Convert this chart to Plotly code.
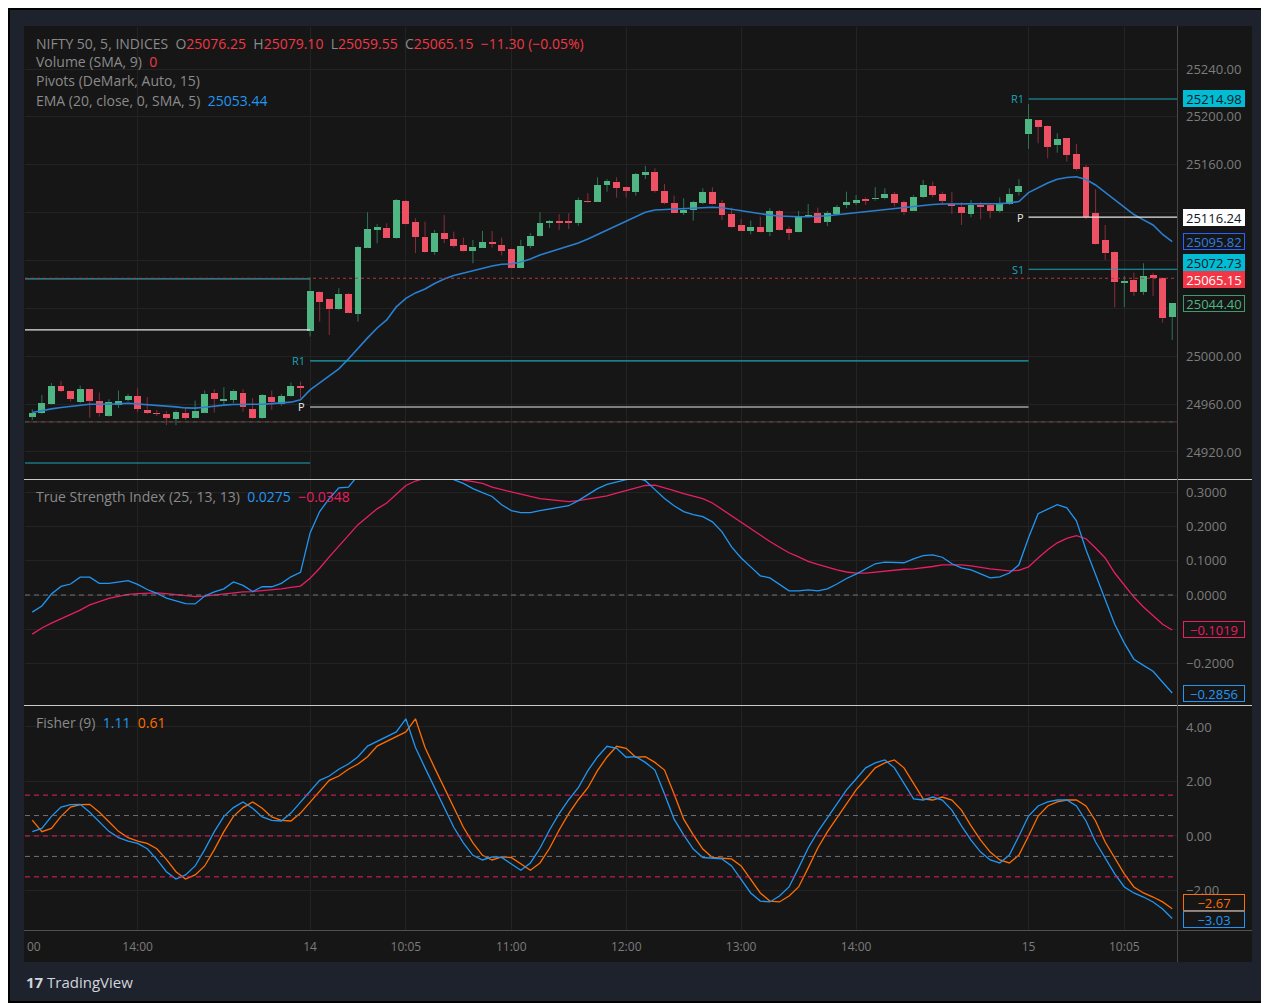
import plotly.graph_objects as go

# page body adds an 8px margin: the figure is laid out in screen pixels minus this offset
OFF = 8
W, H = 1269 - OFF, 1003 - OFF

# ---------------- data ----------------
opens = [
    24949.5, 24952.4, 24959.9, 24975.4, 24971.3, 24961.6, 24972.4, 24962.9, 24950.4, 24959.6,
    24963.5, 24966.8, 24955.4, 24952.9, 24952.1, 24947.6, 24952.9, 24948.7, 24952.9, 24969.6,
    24962.7, 24963.5, 24969.6, 24955.7, 24948.2, 24965.8, 24959.9, 24966.8, 24975.4,
    25021.4, 25054.0, 25047.6, 25039.3, 25052.1, 25035.4, 25090.8, 25105.5, 25107.5, 25098.6,
    25129.8, 25112.0, 25100.0, 25086.9, 25102.8, 25098.0, 25093.0, 25088.0, 25090.8, 25095.3,
    25093.0, 25089.7, 25074.0, 25092.4, 25100.8, 25111.1, 25113.1, 25112.8, 25111.1, 25129.8,
    25129.2, 25143.1, 25145.9, 25141.2, 25137.5, 25151.4, 25154.2, 25138.4, 25127.8, 25119.7,
    25122.2, 25128.3, 25137.2, 25127.8, 25118.6, 25109.4, 25104.9, 25108.3, 25103.6, 25121.4,
    25106.3, 25103.6, 25116.4, 25119.5, 25112.4, 25118.9, 25126.4, 25128.3, 25131.7, 25131.1,
    25132.0, 25135.6, 25128.6, 25121.7, 25132.8, 25142.3, 25135.6, 25127.2, 25125.0, 25118.9,
    25126.4, 25126.1, 25121.7, 25127.2, 25137.5,
    25185.4, 25197.1, 25192.4, 25176.3, 25182.1, 25169.0, 25157.9, 25119.5, 25097.2, 25087.4,
    25061.5, 25063.7, 25054.0, 25067.9, 25065.6, 25032.6,
]
highs = [
    24955.7, 24967.7, 24977.5, 24979.4, 24971.5, 24975.4, 24972.8, 24969.6, 24964.1, 24971.3,
    24968.5, 24973.3, 24965.8, 24955.1, 24954.3, 24954.6, 24956.6, 24962.9, 24971.3, 24972.4,
    24974.1, 24972.4, 24972.4, 24964.9, 24968.5, 24971.3, 24968.5, 24977.9, 24978.8,
    25066.0, 25054.5, 25048.0, 25056.8, 25053.0, 25092.4, 25120.3, 25110.3, 25111.1, 25131.4,
    25130.6, 25115.3, 25112.5, 25105.5, 25118.1, 25104.1, 25099.1, 25097.2, 25104.7, 25104.7,
    25099.1, 25090.0, 25097.2, 25102.8, 25120.3, 25113.9, 25118.7, 25119.5, 25132.5, 25136.2,
    25149.5, 25148.1, 25149.5, 25141.8, 25153.1, 25159.2, 25157.0, 25144.0, 25134.2, 25132.0,
    25129.8, 25140.3, 25141.2, 25130.6, 25124.1, 25114.7, 25113.3, 25116.6, 25123.6, 25122.2,
    25108.3, 25121.4, 25127.2, 25124.1, 25121.4, 25126.4, 25137.5, 25134.7, 25132.8, 25141.2,
    25140.3, 25137.2, 25130.0, 25134.7, 25147.3, 25145.9, 25137.5, 25137.2, 25128.6, 25130.6,
    25128.6, 25127.8, 25132.8, 25140.3, 25147.9,
    25210.8, 25197.5, 25193.0, 25186.3, 25182.5, 25177.3, 25159.8, 25139.5, 25109.7, 25087.8,
    25067.1, 25069.8, 25077.7, 25069.8, 25066.0, 25044.4,
]
lows = [
    24946.8, 24951.8, 24959.6, 24969.9, 24962.1, 24960.7, 24948.7, 24949.5, 24949.5, 24956.6,
    24962.1, 24953.2, 24951.6, 24950.1, 24942.4, 24942.4, 24946.8, 24948.2, 24952.4, 24952.9,
    24959.9, 24960.7, 24953.7, 24947.6, 24947.6, 24955.1, 24958.5, 24966.3, 24964.9,
    25016.4, 25028.9, 25017.8, 25038.5, 25036.0, 25028.9, 25090.3, 25094.4, 25098.6, 25098.2,
    25110.2, 25086.1, 25086.5, 25084.7, 25094.4, 25090.8, 25087.4, 25077.7, 25090.5, 25090.8,
    25084.2, 25073.5, 25073.5, 25090.2, 25099.9, 25107.0, 25105.5, 25106.3, 25109.1, 25128.3,
    25128.8, 25137.5, 25132.5, 25132.5, 25134.2, 25148.1, 25136.7, 25127.0, 25119.5, 25118.0,
    25113.3, 25127.0, 25126.8, 25113.9, 25107.5, 25104.6, 25101.9, 25103.3, 25100.5, 25105.2,
    25097.2, 25103.3, 25116.0, 25111.1, 25108.8, 25118.0, 25123.6, 25126.4, 25126.4, 25130.0,
    25131.1, 25125.0, 25118.0, 25121.4, 25132.0, 25132.8, 25126.4, 25118.9, 25109.7, 25116.1,
    25114.4, 25115.3, 25120.0, 25126.4, 25134.2,
    25173.2, 25177.9, 25165.4, 25170.1, 25162.6, 25155.0, 25114.4, 25093.2, 25080.4, 25040.9,
    25040.9, 25050.4, 25051.2, 25050.4, 25028.1, 25013.6,
]
closes = [
    24952.9, 24960.7, 24975.4, 24971.0, 24964.6, 24972.4, 24962.9, 24952.4, 24961.6, 24962.9,
    24966.8, 24956.0, 24952.4, 24951.6, 24948.7, 24953.7, 24948.5, 24954.6, 24968.5, 24964.6,
    24964.1, 24971.3, 24957.9, 24948.2, 24967.7, 24961.6, 24966.8, 24975.2, 24973.8,
    25054.8, 25045.6, 25039.3, 25052.1, 25036.5, 25091.6, 25106.4, 25108.3, 25099.1, 25130.6,
    25110.6, 25099.5, 25086.9, 25103.3, 25098.0, 25092.4, 25088.0, 25091.6, 25095.3, 25093.6,
    25088.0, 25074.0, 25092.4, 25100.8, 25111.1, 25113.1, 25111.1, 25111.4, 25130.6, 25128.9,
    25143.1, 25146.7, 25140.4, 25138.4, 25152.3, 25154.2, 25138.4, 25128.3, 25119.7, 25122.2,
    25128.9, 25137.2, 25127.2, 25118.0, 25107.8, 25104.9, 25108.3, 25103.6, 25121.4, 25105.5,
    25102.8, 25116.6, 25118.0, 25111.7, 25119.5, 25124.5, 25128.9, 25130.6, 25130.0, 25132.5,
    25135.6, 25127.8, 25120.3, 25133.4, 25143.1, 25134.7, 25130.0, 25125.6, 25120.0, 25126.4,
    25124.5, 25121.7, 25127.8, 25135.6, 25142.3,
    25198.0, 25191.8, 25175.1, 25181.3, 25168.2, 25156.2, 25116.6, 25093.6, 25086.0, 25061.8,
    25062.9, 25054.0, 25067.1, 25065.6, 25031.7, 25044.4,
]
ema20 = [
    24952.9, 24954.6, 24956.0, 24957.1, 24957.9, 24959.3, 24959.9, 24959.9, 24959.9, 24960.2,
    24960.7, 24960.2, 24959.6, 24959.1, 24958.5, 24957.7, 24956.8, 24956.6, 24957.4, 24958.5,
    24959.1, 24959.6, 24959.6, 24959.6, 24959.9, 24960.4, 24960.7, 24961.6, 24963.5,
    24971.9, 24977.7, 24983.5, 24989.4, 24997.7, 25006.9, 25015.3, 25023.6, 25030.3, 25041.2,
    25048.3, 25052.9, 25056.2, 25060.8, 25064.6, 25067.5, 25069.6, 25071.3, 25073.3, 25075.4,
    25076.9, 25077.1, 25078.8, 25081.3, 25084.6, 25087.1, 25089.2, 25091.6, 25094.6, 25098.0,
    25101.7, 25105.5, 25108.8, 25112.8, 25116.8, 25120.3, 25122.2, 25122.6, 25122.8, 25123.0,
    25123.5, 25124.3, 25124.5, 25124.0, 25122.8, 25121.4, 25119.9, 25118.7, 25117.9, 25117.2,
    25116.6, 25116.6, 25116.6, 25116.9, 25117.4, 25118.2, 25119.1, 25119.9, 25120.7, 25121.5,
    25122.5, 25123.3, 25124.0, 25125.0, 25126.1, 25126.8, 25127.2, 25127.2, 25127.2, 25127.0,
    25127.0, 25127.2, 25127.5, 25128.0, 25129.3,
    25136.7, 25141.0, 25144.8, 25147.9, 25149.4, 25150.0, 25147.7, 25143.1, 25137.0, 25130.6,
    25124.3, 25118.4, 25113.9, 25109.7, 25101.7, 25095.8,
]
tsi = [
    -0.050, -0.032, 0.003, 0.025, 0.032, 0.052, 0.052, 0.034, 0.034, 0.037,
    0.042, 0.031, 0.016, 0.005, -0.009, -0.017, -0.025, -0.026, -0.003, 0.009,
    0.018, 0.038, 0.028, 0.010, 0.024, 0.024, 0.034, 0.053, 0.066,
    0.181, 0.243, 0.281, 0.312, 0.314, 0.348, 0.370, 0.390, 0.400, 0.410,
    0.400, 0.390, 0.380, 0.370, 0.355, 0.336, 0.325, 0.310, 0.298, 0.287,
    0.263, 0.246, 0.240, 0.240, 0.246, 0.251, 0.254, 0.260, 0.275, 0.292,
    0.310, 0.322, 0.330, 0.336, 0.342, 0.333, 0.307, 0.281, 0.260, 0.243,
    0.234, 0.228, 0.213, 0.184, 0.140, 0.108, 0.082, 0.056, 0.050, 0.032,
    0.012, 0.012, 0.015, 0.012, 0.018, 0.032, 0.048, 0.061, 0.076, 0.091,
    0.096, 0.094, 0.094, 0.105, 0.115, 0.117, 0.110, 0.091, 0.079, 0.073,
    0.061, 0.050, 0.053, 0.064, 0.088,
    0.167, 0.237, 0.251, 0.263, 0.254, 0.216, 0.132, 0.058, -0.015, -0.085,
    -0.140, -0.187, -0.205, -0.222, -0.254, -0.2856,
]
tsi_signal = [
    -0.114, -0.096, -0.082, -0.070, -0.058, -0.044, -0.029, -0.019, -0.010, -0.004,
    0.002, 0.004, 0.006, 0.006, 0.004, 0.001, -0.003, -0.005, -0.003, 0.000,
    0.004, 0.008, 0.009, 0.010, 0.012, 0.015, 0.018, 0.022, 0.026,
    0.049, 0.078, 0.111, 0.143, 0.175, 0.205, 0.228, 0.251, 0.268, 0.294,
    0.319, 0.332, 0.340, 0.345, 0.347, 0.345, 0.335, 0.330, 0.325, 0.314,
    0.307, 0.300, 0.292, 0.287, 0.281, 0.278, 0.275, 0.272, 0.275, 0.279,
    0.284, 0.289, 0.297, 0.304, 0.313, 0.319, 0.320, 0.313, 0.304, 0.295,
    0.288, 0.281, 0.268, 0.249, 0.231, 0.211, 0.192, 0.175, 0.156, 0.139,
    0.123, 0.111, 0.098, 0.089, 0.080, 0.073, 0.067, 0.064, 0.064, 0.067,
    0.070, 0.073, 0.075, 0.076, 0.079, 0.083, 0.088, 0.089, 0.088, 0.085,
    0.080, 0.076, 0.073, 0.070, 0.072,
    0.082, 0.108, 0.132, 0.152, 0.165, 0.173, 0.164, 0.137, 0.108, 0.064,
    0.029, -0.006, -0.035, -0.061, -0.085, -0.1019,
]
fisher = [
    0.16, 0.28, 0.72, 1.06, 1.15, 1.16, 0.87, 0.52, 0.17, -0.06,
    -0.19, -0.27, -0.47, -0.86, -1.31, -1.58, -1.43, -1.10, -0.50, 0.16,
    0.72, 1.04, 1.25, 1.02, 0.70, 0.57, 0.55, 0.84, 1.24,
    1.62, 2.04, 2.20, 2.45, 2.64, 2.91, 3.30, 3.48, 3.65, 3.82,
    4.30, 3.25, 2.50, 1.77, 1.05, 0.32, -0.25, -0.71, -0.88, -0.77,
    -0.79, -1.02, -1.26, -0.99, -0.45, 0.22, 0.82, 1.33, 1.77, 2.40,
    2.90, 3.29, 3.22, 2.89, 2.91, 2.70, 2.42, 1.54, 0.62, 0.04,
    -0.48, -0.79, -0.81, -0.84, -1.10, -1.61, -2.09, -2.39, -2.42, -2.20,
    -1.87, -1.17, -0.44, 0.15, 0.66, 1.21, 1.69, 2.09, 2.50, 2.68,
    2.79, 2.50, 1.91, 1.36, 1.32, 1.43, 1.32, 0.95, 0.37, -0.15,
    -0.59, -0.88, -0.99, -0.70, 0.00,
    0.73, 1.10, 1.25, 1.32, 1.32, 1.10, 0.55, -0.22, -0.81, -1.39,
    -1.87, -2.09, -2.24, -2.42, -2.68, -3.03,
]
fisher_trigger = [
    0.58, 0.16, 0.28, 0.72, 1.06, 1.15, 1.16, 0.87, 0.52, 0.17,
    -0.06, -0.19, -0.27, -0.47, -0.86, -1.31, -1.58, -1.43, -1.10, -0.50,
    0.16, 0.72, 1.04, 1.25, 1.02, 0.70, 0.57, 0.55, 0.84,
    1.24, 1.62, 2.04, 2.20, 2.45, 2.64, 2.91, 3.30, 3.48, 3.65,
    3.82, 4.30, 3.25, 2.50, 1.77, 1.05, 0.32, -0.25, -0.71, -0.88,
    -0.77, -0.79, -1.02, -1.26, -0.99, -0.45, 0.22, 0.82, 1.33, 1.77,
    2.40, 2.90, 3.29, 3.22, 2.89, 2.91, 2.70, 2.42, 1.54, 0.62,
    0.04, -0.48, -0.79, -0.81, -0.84, -1.10, -1.61, -2.09, -2.39, -2.42,
    -2.20, -1.87, -1.17, -0.44, 0.15, 0.66, 1.21, 1.69, 2.09, 2.50,
    2.68, 2.79, 2.50, 1.91, 1.36, 1.32, 1.43, 1.32, 0.95, 0.37,
    -0.15, -0.59, -0.88, -0.99, -0.70,
    0.00, 0.73, 1.10, 1.25, 1.32, 1.32, 1.10, 0.55, -0.22, -0.81,
    -1.39, -1.87, -2.09, -2.24, -2.42, -2.67,
]
# session boundaries (bar index) and DeMark pivot levels per session
session_start = [-40, 29, 104]
session_end = [29, 104, 140]
pivot_r1 = [25064.6, 24996.1, 25214.98]
pivot_p = [25022.0, 24957.6, 25116.24]
pivot_s1 = [24910.8, 24875.0, 25072.73]
pivot_labelled = [False, True, True]
last_price = 25065.15
marker_line = 24945.1

tick_index = [11, 29, 39, 50, 62, 74, 86, 104, 114]
tick_text = ["14:00", "14", "10:05", "11:00", "12:00", "13:00", "14:00", "15", "10:05"]

price_ticks = [24920, 24960, 25000, 25040, 25080, 25120, 25160, 25200, 25240]
price_ticktext = ["24920.00", "24960.00", "25000.00", "", "", "", "25160.00", "25200.00", "25240.00"]
tsi_ticks = [-0.2, -0.1, 0.0, 0.1, 0.2, 0.3]
tsi_ticktext = ["\u22120.2000", "", "0.0000", "0.1000", "0.2000", "0.3000"]
fisher_ticks = [-2, 0, 2, 4]
fisher_ticktext = ["\u22122.00", "0.00", "2.00", "4.00"]

n = len(closes)
assert all(len(a) == n for a in [opens, highs, lows, ema20, tsi, tsi_signal, fisher, fisher_trigger]), "len"
idx = list(range(n))

# ---------------- styles ----------------
FONT = "'Open Sans', sans-serif"
BG = "#161616"
FRAME = "#1e222d"
GRID = "#232323"
AXTXT = "#7c7c7c"
UP = "#4fb583"
DOWN = "#ef5164"
UP_WICK = "#2d7455"
DOWN_WICK = "#8a2d3c"
CYAN = "#00bcd4"
CYAN_LINE = "#1aa3b8"
EMA_C = "#2a7fd0"
BLUE = "#2196f3"
CRIMSON = "#e91e63"
ORANGE = "#ff6d00"
GRAYDASH = "#6f7278"

def PX(x):  # screen pixel -> paper x
    return (x - OFF) / W

def PY(y):  # screen pixel -> paper y
    return 1 - (y - OFF) / H

fig = go.Figure()

# wicks (split above/below body so bodies stay clean)
def wick_xy(sel):
    xs, ys = [], []
    for k in idx:
        if not sel(k):
            continue
        top = max(opens[k], closes[k])
        bot = min(opens[k], closes[k])
        xs += [k, k, None, k, k, None]
        ys += [highs[k], top, None, bot, lows[k], None]
    return xs, ys

is_up = lambda k: closes[k] >= opens[k]
is_dn = lambda k: closes[k] < opens[k]

for sel, col in [(is_up, UP_WICK), (is_dn, DOWN_WICK)]:
    xs, ys = wick_xy(sel)
    fig.add_trace(go.Scatter(x=xs, y=ys, mode="lines", line=dict(color=col, width=1),
                             hoverinfo="skip", showlegend=False, xaxis="x", yaxis="y"))

for sel, col in [(is_up, UP), (is_dn, DOWN)]:
    ks = [k for k in idx if sel(k)]
    fig.add_trace(go.Bar(
        x=ks,
        y=[max(abs(closes[k] - opens[k]), 0.9) for k in ks],
        base=[min(opens[k], closes[k]) for k in ks],
        width=0.72, marker=dict(color=col, line=dict(width=0)),
        hoverinfo="skip", showlegend=False, xaxis="x", yaxis="y"))

# EMA
fig.add_trace(go.Scatter(x=idx, y=ema20, mode="lines", line=dict(color=EMA_C, width=1.6),
                         hoverinfo="skip", showlegend=False, xaxis="x", yaxis="y"))

# pivots
for i in range(len(session_start)):
    xs = [session_start[i], session_end[i]]
    for lvl, col in [(pivot_r1[i], CYAN_LINE), (pivot_s1[i], CYAN_LINE), (pivot_p[i], "#e6e6e6")]:
        fig.add_trace(go.Scatter(x=xs, y=[lvl, lvl], mode="lines", line=dict(color=col, width=1.1),
                                 hoverinfo="skip", showlegend=False, xaxis="x", yaxis="y"))

# TSI pane
fig.add_trace(go.Scatter(x=idx, y=tsi_signal, mode="lines", line=dict(color=CRIMSON, width=1.3),
                         hoverinfo="skip", showlegend=False, xaxis="x2", yaxis="y2"))
fig.add_trace(go.Scatter(x=idx, y=tsi, mode="lines", line=dict(color=BLUE, width=1.3),
                         hoverinfo="skip", showlegend=False, xaxis="x2", yaxis="y2"))

# Fisher pane
fig.add_trace(go.Scatter(x=idx, y=fisher_trigger, mode="lines", line=dict(color=ORANGE, width=1.3),
                         hoverinfo="skip", showlegend=False, xaxis="x3", yaxis="y3"))
fig.add_trace(go.Scatter(x=idx, y=fisher, mode="lines", line=dict(color=BLUE, width=1.3),
                         hoverinfo="skip", showlegend=False, xaxis="x3", yaxis="y3"))

# ---------------- layout ----------------
def ydom(top_px, bot_px):
    return [PY(bot_px), PY(top_px)]

xdom = [PX(25), PX(1177)]
xrange = [-0.76, 119.5]
common_x = dict(domain=xdom, range=xrange, tickvals=tick_index, ticktext=tick_text,
                showgrid=True, gridcolor=GRID, gridwidth=1, zeroline=False, showline=False,
                ticks="", fixedrange=True)
common_y = dict(side="right", showgrid=True, gridcolor=GRID, gridwidth=1, zeroline=False,
                showline=False, ticks="", ticklabelstandoff=8, fixedrange=True,
                tickfont=dict(family=FONT, size=13, color=AXTXT))

shapes = [
    dict(type="rect", xref="paper", yref="paper", x0=PX(10), x1=PX(1262), y0=PY(1001), y1=PY(10),
         fillcolor=FRAME, line=dict(width=0), layer="below"),
    dict(type="rect", xref="paper", yref="paper", x0=PX(24), x1=PX(1252), y0=PY(962), y1=PY(26),
         fillcolor=BG, line=dict(width=0), layer="below"),
    # marker line (alternating red / green dashes)
    dict(type="line", xref="x domain", x0=0, x1=1, yref="y", y0=marker_line, y1=marker_line,
         line=dict(color="#7a2b36", width=1)),
    dict(type="line", xref="x domain", x0=0, x1=1, yref="y", y0=marker_line, y1=marker_line,
         line=dict(color="#1f6b50", width=1, dash="4px,4px")),
    # last price line
    dict(type="line", xref="x domain", x0=0, x1=1, yref="y", y0=last_price, y1=last_price,
         line=dict(color="#b8343f", width=1, dash="dot")),
    # TSI zero line
    dict(type="line", xref="x2 domain", x0=0, x1=1, yref="y2", y0=0, y1=0,
         line=dict(color=GRAYDASH, width=1, dash="5px,4px")),
]
for lvl, col in [(1.5, CRIMSON), (0.75, GRAYDASH), (0, CRIMSON), (-0.75, GRAYDASH), (-1.5, CRIMSON)]:
    shapes.append(dict(type="line", xref="x3 domain", x0=0, x1=1, yref="y3", y0=lvl, y1=lvl,
                       line=dict(color=col, width=1, dash="5px,4px")))
# pane separators
for ypx, col in [(479.5, "#c9c9c9"), (705.5, "#c9c9c9"), (930.5, "#505050")]:
    shapes.append(dict(type="line", xref="paper", yref="paper", x0=PX(24), x1=PX(1252),
                       y0=PY(ypx), y1=PY(ypx), line=dict(color=col, width=1)))
shapes.append(dict(type="line", xref="paper", yref="paper", x0=PX(1177.5), x1=PX(1177.5),
                   y0=PY(962), y1=PY(26), line=dict(color="#474747", width=1)))

annotations = []

def legend(ypx, text, xpx=34):
    annotations.append(dict(xref="paper", yref="paper", x=PX(xpx), y=PY(ypx), xanchor="left",
                            yanchor="middle", showarrow=False, text=text,
                            font=dict(family=FONT, size=14, color="#8a8a8a")))

def c(col, t):
    return f"<span style='color:{col}'>{t}</span>"

RED = "#f23645"
SP = "\u00a0\u00a0"
legend(44, "NIFTY 50, 5, INDICES" + SP + "O" + c(RED, "25076.25") + SP + "H" + c(RED, "25079.10") + SP +
       "L" + c(RED, "25059.55") + SP + "C" + c(RED, "25065.15") + SP + c(RED, "\u221211.30 (\u22120.05%)"))
legend(62, "Volume (SMA, 9)" + SP + c(RED, "0"))
legend(81, "Pivots (DeMark, Auto, 15)")
legend(100, "EMA (20, close, 0, SMA, 5)" + SP + c(BLUE, "25053.44"))
legend(496, "True Strength Index (25, 13, 13)" + SP + c(BLUE, "0.0275") + SP + c(CRIMSON, "\u22120.0348"))
legend(722, "Fisher (9)" + SP + c(BLUE, "1.11") + SP + c(ORANGE, "0.61"))

# pivot labels
for i in range(len(session_start)):
    if not pivot_labelled[i]:
        continue
    for name, lvl, col in [("R1", pivot_r1[i], CYAN_LINE), ("P", pivot_p[i], "#e6e6e6"), ("S1", pivot_s1[i], CYAN_LINE)]:
        annotations.append(dict(xref="x", yref="y", x=session_start[i], y=lvl, xanchor="right",
                                yanchor="middle", xshift=-3, showarrow=False, text=name,
                                font=dict(family=FONT, size=11, color=col)))

# right-axis value labels
def axlabel(yref, val, text, bg, border, fg, yshift=0):
    annotations.append(dict(xref="paper", yref=yref, x=PX(1183), y=val, xanchor="left", yanchor="middle",
                            yshift=yshift, showarrow=False, text=text, width=60, height=15, align="center",
                            bgcolor=bg, bordercolor=border, borderwidth=1, borderpad=0,
                            font=dict(family=FONT, size=13, color=fg)))

axlabel("y", pivot_r1[2], "25214.98", CYAN, CYAN, "#131722")
axlabel("y", pivot_p[2], "25116.24", "#ffffff", "#ffffff", "#131722")
axlabel("y", ema20[-1], "25095.82", BG, "#2962ff", "#2f7fe0")
axlabel("y", pivot_s1[2], "25072.73", CYAN, CYAN, "#131722", yshift=7)
axlabel("y", last_price, "25065.15", "#f23645", "#f23645", "#ffffff", yshift=-1)
axlabel("y", closes[-1], "25044.40", BG, "#3f9a6e", "#4fb583")
axlabel("y2", tsi_signal[-1], "\u22120.1019", BG, CRIMSON, CRIMSON)
axlabel("y2", tsi[-1], "\u22120.2856", BG, BLUE, BLUE)
axlabel("y3", fisher_trigger[-1], "\u22122.67", BG, ORANGE, ORANGE, yshift=6)
axlabel("y3", fisher[-1], "\u22123.03", BG, BLUE, BLUE, yshift=-1)

# clipped first time label and logo
annotations.append(dict(xref="paper", yref="paper", x=PX(25), y=PY(946), xanchor="left", yanchor="middle",
                        showarrow=False, text="00", font=dict(family=FONT, size=12, color=AXTXT)))
annotations.append(dict(xref="paper", yref="paper", x=PX(24), y=PY(982), xanchor="left", yanchor="middle",
                        showarrow=False, text="<b>17</b> TradingView",
                        font=dict(family=FONT, size=15, color="#d1d4dc")))

fig.update_layout(
    width=W, height=H, autosize=False,
    margin=dict(l=0, r=0, t=0, b=0),
    paper_bgcolor="#000000", plot_bgcolor=BG,
    barmode="overlay", bargap=0, showlegend=False, dragmode=False,
    hovermode=False,
    xaxis=dict(common_x, anchor="y", showticklabels=False),
    xaxis2=dict(common_x, anchor="y2", showticklabels=False),
    xaxis3=dict(common_x, anchor="y3", showticklabels=True, ticklabelstandoff=8,
                tickfont=dict(family=FONT, size=12, color=AXTXT)),
    yaxis=dict(common_y, anchor="x", domain=ydom(27, 479), range=[24897.4, 25275.1],
               tickvals=price_ticks, ticktext=price_ticktext),
    yaxis2=dict(common_y, anchor="x2", domain=ydom(480, 705), range=[-0.3204, 0.335],
                tickvals=tsi_ticks, ticktext=tsi_ticktext),
    yaxis3=dict(common_y, anchor="x3", domain=ydom(706, 930), range=[-3.45, 4.77],
                tickvals=fisher_ticks, ticktext=fisher_ticktext),
    shapes=shapes,
    annotations=annotations,
    font=dict(family=FONT),
)

fig.write_html("out.html", config={"displayModeBar": False, "staticPlot": True})
